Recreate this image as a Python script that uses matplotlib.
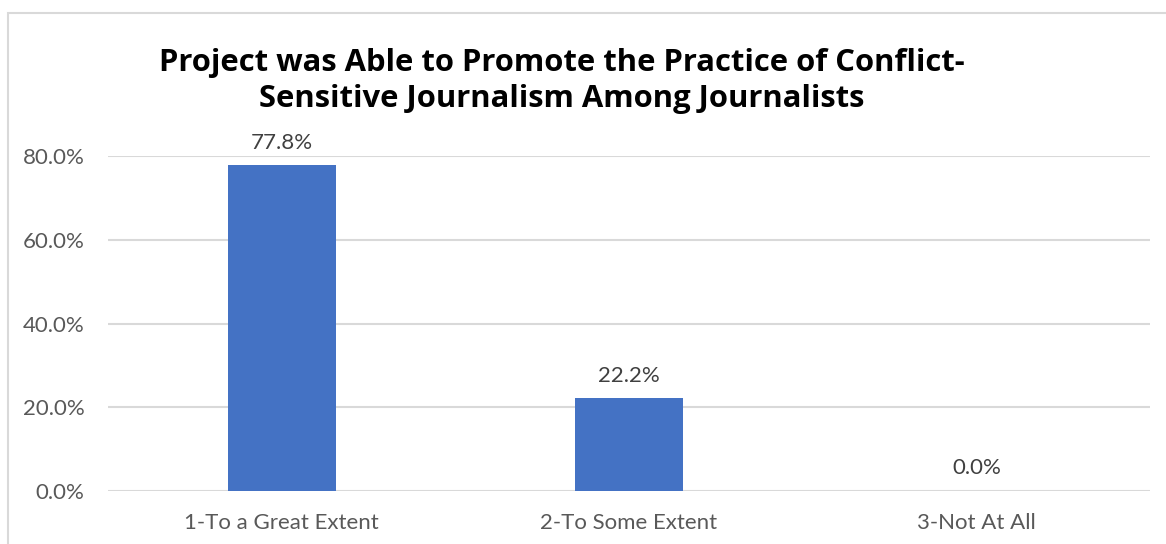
import matplotlib.pyplot as plt
from matplotlib.patches import Rectangle

categories = ["1-To a Great Extent", "2-To Some Extent", "3-Not At All"]
shares = [77.8, 22.2, 0.0]
yticks = [0, 20, 40, 60, 80]
title_lines = ["Project was Able to Promote the Practice of Conflict-",
               "Sensitive Journalism Among Journalists"]

plt.rcParams['font.family'] = ['Lato', 'DejaVu Sans']

fig = plt.figure(figsize=(11.66, 5.44), dpi=100)
W, H = 1166, 544

# light chart-area border (only top/left edges fall inside the canvas)
fig.patches.append(Rectangle((8 / W, -0.05), 1.2, 1 - 13 / H + 0.05,
                             transform=fig.transFigure, fill=False,
                             edgecolor='#d9d9d9', linewidth=1.5))

ax = fig.add_axes([108 / W, 1 - 491 / H, (1150 - 108) / W, (491 - 156) / H])
x = range(len(categories))
bars = ax.bar(x, shares, width=0.31, color='#4472C4', zorder=3)

for b, v in zip(bars, shares):
    ax.annotate(f"{v:.1f}%", (b.get_x() + b.get_width() / 2, v),
                xytext=(0, 9), textcoords='offset points',
                ha='center', va='bottom', fontsize=16, color='#404040',
                annotation_clip=False)

ax.set_xlim(-0.5, 2.5)
ax.set_ylim(0, 80)
ax.set_yticks(yticks)
ax.set_yticklabels([f"{t:.1f}%" for t in yticks])
ax.set_xticks(list(x))
ax.set_xticklabels(categories)
ax.grid(axis='y', color='#d9d9d9', linewidth=1.5, zorder=0)
for s in ax.spines.values():
    s.set_visible(False)
ax.tick_params(axis='both', length=0, labelsize=16, labelcolor='#595959')
ax.tick_params(axis='y', pad=17)
ax.tick_params(axis='x', pad=16)

for line, base in zip(title_lines, [71, 107]):
    fig.text(562 / W, 1 - base / H, line, ha='center', va='baseline',
             fontsize=22.3, fontweight='bold', color='black',
             family=['Open Sans', 'DejaVu Sans'])

fig.savefig('out.png', dpi=100)
